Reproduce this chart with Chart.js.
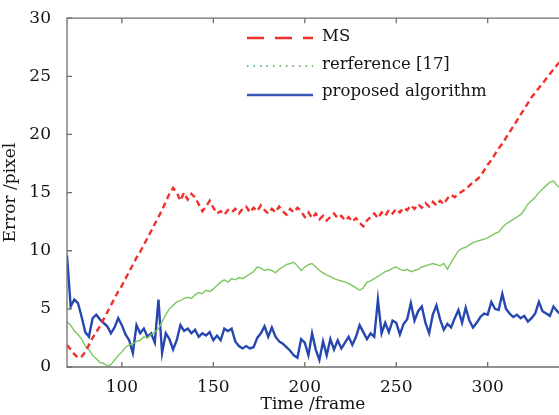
<!DOCTYPE html>
<html>
<head>
<meta charset="utf-8">
<script src="https://cdn.jsdelivr.net/npm/chart.js@4"></script>
<style>
  html, body { margin: 0; padding: 0; background: #fff; }
  #wrap { width: 559px; height: 415px; }
</style>
</head>
<body>
<div id="wrap"><canvas id="chart-error"></canvas></div>
<script>
// frames 70..340, every 2 frames
var frames = [];
for (var f = 70; f <= 340; f += 2) frames.push(f);

var msError = [
  1.9, 1.5, 1.1, 0.8, 0.9, 1.3, 1.9, 2.5, 3.0, 3.5,
  4.1, 4.7, 5.3, 5.9, 6.5, 7.0, 7.6, 8.2, 8.8, 9.4,
  9.9, 10.5, 11.1, 11.7, 12.3, 12.9, 13.5, 14.2, 14.9, 15.4,
  15.0, 14.3, 15.0, 14.4, 14.9, 14.6, 14.0, 13.4, 13.8, 14.3,
  13.7, 13.2, 13.4, 13.1, 13.5, 13.3, 13.6, 13.2, 13.6, 13.8,
  13.3, 13.7, 13.4, 13.9, 13.5, 13.2, 13.6, 13.3, 13.8, 13.4,
  13.1, 13.6, 13.3, 13.7, 13.4, 12.9, 13.3, 12.8, 13.2, 12.7,
  13.0, 12.6, 12.9, 13.2, 12.8, 13.0, 12.6, 12.9, 12.5, 12.8,
  12.4, 12.1, 12.6, 12.9, 13.2, 12.8, 13.3, 13.0, 13.5, 13.2,
  13.6, 13.3, 13.7, 13.5, 13.9, 13.6, 14.0, 13.7, 14.1, 13.8,
  14.2, 13.9, 14.3, 14.0, 14.5, 14.8, 14.6, 14.9, 15.1, 15.3,
  15.6, 15.9, 16.1, 16.4, 16.9, 17.4, 17.8, 18.3, 18.8, 19.2,
  19.7, 20.2, 20.7, 21.2, 21.7, 22.2, 22.7, 23.2, 23.6, 24.0,
  24.4, 24.8, 25.2, 25.6, 26.0, 26.3
];

var refError = [
  3.9, 3.6, 3.1, 2.8, 2.4, 1.8, 1.5, 1.0, 0.7, 0.4,
  0.3, 0.1, 0.2, 0.6, 1.0, 1.3, 1.7, 1.9, 2.0, 2.2,
  2.3, 2.6, 2.5, 2.8, 3.0, 3.3, 3.9, 4.5, 5.0, 5.3,
  5.6, 5.7, 5.9, 6.0, 5.9, 6.2, 6.4, 6.3, 6.6, 6.5,
  6.7, 7.0, 7.3, 7.5, 7.3, 7.6, 7.5, 7.7, 7.6, 7.8,
  8.0, 8.2, 8.6, 8.5, 8.3, 8.4, 8.3, 8.1, 8.4, 8.6,
  8.8, 8.9, 9.0, 8.7, 8.3, 8.6, 8.8, 8.9, 8.6, 8.3,
  8.1, 7.9, 7.8, 7.6, 7.5, 7.4, 7.3, 7.2, 7.0, 6.8,
  6.6, 6.8, 7.3, 7.4, 7.6, 7.8, 8.0, 8.2, 8.3, 8.5,
  8.6, 8.4, 8.3, 8.4, 8.2, 8.3, 8.4, 8.6, 8.7, 8.8,
  8.9, 8.8, 8.7, 8.9, 8.4, 9.0, 9.5, 10.0, 10.2, 10.3,
  10.5, 10.7, 10.8, 10.9, 11.0, 11.1, 11.3, 11.5, 11.6, 12.0,
  12.3, 12.5, 12.7, 12.9, 13.1, 13.5, 14.0, 14.3, 14.6, 15.0,
  15.3, 15.6, 15.9, 16.0, 15.6, 15.4
];

var proposedError = [
  9.6, 5.2, 5.8, 5.5, 4.3, 3.0, 2.6, 4.2, 4.5, 4.1,
  3.8, 3.5, 2.9, 3.4, 4.2, 3.6, 2.8, 2.3, 1.2, 3.6,
  2.9, 3.3, 2.6, 2.9, 2.1, 5.8, 1.2, 2.9, 2.4, 1.5,
  2.3, 3.6, 3.1, 3.3, 2.9, 3.2, 2.6, 2.9, 2.7, 3.0,
  2.3, 2.7, 2.3, 3.3, 3.1, 3.3, 2.2, 1.8, 1.6, 1.8,
  1.6, 1.7, 2.5, 2.9, 3.5, 2.6, 3.4, 2.6, 2.2, 2.0,
  1.7, 1.4, 1.0, 0.8, 2.4, 2.1, 1.0, 2.9, 1.5, 0.6,
  2.2, 1.0, 2.4, 1.5, 2.3, 1.6, 2.1, 2.6, 1.9, 2.6,
  3.6, 3.0, 2.4, 2.9, 2.6, 5.8, 2.9, 3.8, 3.0, 4.0,
  3.8, 2.8, 3.7, 4.1, 5.5, 4.0, 4.8, 5.2, 3.8, 2.9,
  4.5, 5.3, 4.1, 3.2, 3.7, 3.4, 4.2, 4.9, 3.8, 5.1,
  4.0, 3.4, 3.8, 4.3, 4.6, 4.5, 5.6, 5.0, 4.9, 6.3,
  5.0, 4.6, 4.3, 4.5, 4.2, 4.4, 3.9, 4.2, 4.6, 5.6,
  4.8, 4.6, 4.4, 5.2, 4.8, 4.5
];

var seriesLabels = ['MS', 'rerference [17]', 'proposed algorithm'];
var xTicks = [100, 150, 200, 250, 300];
var yTicks = [0, 5, 10, 15, 20, 25, 30];

function points(values) {
  return frames.map(function (fr, i) { return { x: fr, y: values[i] }; });
}

var FONT = '"DejaVu Serif", serif';
var INK = '#141414';

// box, inward tick marks and legend in the style of the original figure
const boxPlugin = {
  id: 'boxPlugin',
  afterDatasetsDraw: function (chart) {
    const ctx = chart.ctx;
    const a = chart.chartArea;
    const xs = chart.scales.x, ys = chart.scales.y;
    ctx.save();
    ctx.strokeStyle = '#6e6e6e';
    ctx.lineWidth = 1.3;
    ctx.beginPath();
    ctx.moveTo(a.right + 2, a.top);
    ctx.lineTo(a.left, a.top);
    ctx.lineTo(a.left, a.bottom);
    ctx.lineTo(a.right + 2, a.bottom);
    ctx.stroke();
    ctx.beginPath();
    xTicks.forEach(function (t) {
      const px = xs.getPixelForValue(t);
      ctx.moveTo(px, a.bottom); ctx.lineTo(px, a.bottom - 5);
      ctx.moveTo(px, a.top); ctx.lineTo(px, a.top + 5);
    });
    yTicks.forEach(function (t) {
      const py = ys.getPixelForValue(t);
      ctx.moveTo(a.left, py); ctx.lineTo(a.left + 5, py);
    });
    ctx.stroke();

    // legend
    const rows = [
      { y: 38, color: '#f0302a', dash: [17, 11], width: 2.4 },
      { y: 66, color: '#3aa84a', dash: [1.5, 5], width: 1.6 },
      { y: 95, color: '#3a58b8', dash: [], width: 2.6 }
    ];
    ctx.font = '16.5px ' + FONT;
    ctx.textBaseline = 'middle';
    ctx.textAlign = 'left';
    rows.forEach(function (r, i) {
      ctx.strokeStyle = r.color;
      ctx.lineWidth = r.width;
      ctx.setLineDash(r.dash);
      ctx.beginPath();
      ctx.moveTo(247, r.y); ctx.lineTo(313, r.y);
      ctx.stroke();
      ctx.setLineDash([]);
      ctx.fillStyle = INK;
      ctx.fillText(seriesLabels[i], 322, r.y - (i === 2 ? 3 : 1));
    });
    ctx.restore();
  }
};

const ctx1 = document.getElementById('chart-error').getContext('2d');
new Chart(ctx1, {
  type: 'line',
  data: {
    datasets: [
      {
        label: seriesLabels[0],
        data: points(msError),
        borderColor: '#f0302a',
        borderWidth: 2.4,
        borderDash: [6, 4],
        pointRadius: 0,
        tension: 0
      },
      {
        label: seriesLabels[1],
        data: points(refError),
        borderColor: '#7cc860',
        borderWidth: 1.4,
        pointRadius: 0,
        tension: 0
      },
      {
        label: seriesLabels[2],
        data: points(proposedError),
        borderColor: '#2747b0',
        borderWidth: 2.4,
        pointRadius: 0,
        tension: 0
      }
    ]
  },
  options: {
    responsive: true,
    maintainAspectRatio: false,
    animation: false,
    layout: { padding: { top: 18, right: 0, left: 0, bottom: 0 } },
    plugins: {
      legend: { display: false },
      tooltip: { enabled: false },
      title: { display: false }
    },
    scales: {
      x: {
        type: 'linear',
        min: 70,
        max: 339,
        afterFit: function (s) { s.height = 48; },
        afterBuildTicks: function (s) { s.ticks = xTicks.map(function (v) { return { value: v }; }); },
        grid: { display: false },
        border: { display: false },
        ticks: { color: INK, font: { family: FONT, size: 17 }, padding: 2, maxRotation: 0 },
        title: { display: true, text: 'Time /frame', color: INK, font: { family: FONT, size: 17 }, padding: { top: -2, bottom: 0 } }
      },
      y: {
        min: 0,
        max: 30,
        afterFit: function (s) { s.width = 67; },
        afterBuildTicks: function (s) { s.ticks = yTicks.map(function (v) { return { value: v }; }); },
        grid: { display: false },
        border: { display: false },
        ticks: { color: INK, font: { family: FONT, size: 17 }, padding: 8 },
        title: { display: true, text: 'Error /pixel', color: INK, font: { family: FONT, size: 17 }, padding: { top: 0, bottom: 4 } }
      }
    }
  },
  plugins: [boxPlugin]
});
</script>
</body>
</html>
